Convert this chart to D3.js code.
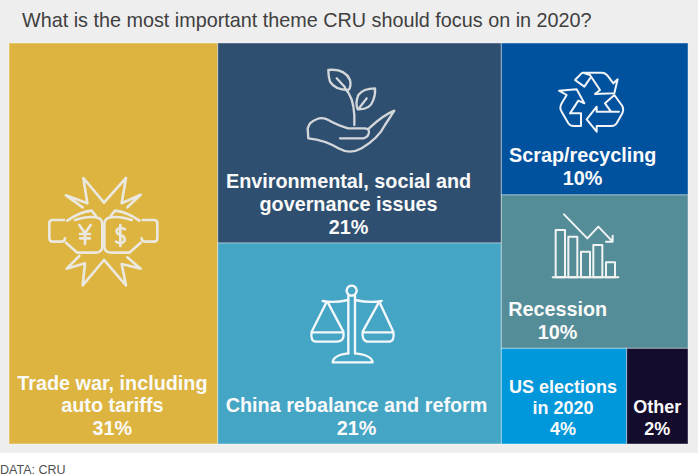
<!DOCTYPE html>
<html>
<head>
<meta charset="utf-8">
<script src="https://cdn.jsdelivr.net/npm/d3@7"></script>
<style>
html, body { margin: 0; padding: 0; background: #fff; }
svg { display: block; font-family: "Liberation Sans", Arial, sans-serif; }
</style>
</head>
<body>
<div id="chart"></div>
<script>
var titleText = "What is the most important theme CRU should focus on in 2020?";
var sourceText = "DATA: CRU";

// columns of the treemap; shares are read from the tile areas, labels are the printed ones
var themes = ["trade", "esg", "china", "scrap", "recession", "us", "other"];
var shares = [30.7, 20.8, 20.9, 10.4, 10.5, 4.4, 2.15];
var percentLabels = ["31%", "21%", "21%", "10%", "10%", "4%", "2%"];
var nameLines = [
    ["Trade war, including", "auto tariffs"],
    ["Environmental, social and", "governance issues"],
    ["China rebalance and reform"],
    ["Scrap/recycling"],
    ["Recession"],
    ["US elections", "in 2020"],
    ["Other"]
];
var tileColors = ["#dcb43f", "#2e4f70", "#45a5c5", "#00529f", "#548d97", "#0098db", "#140c2c"];

var width = 698;
var height = 476;

function leaf(i) {
    return { name: themes[i], value: shares[i], index: i };
}

var tree = {
    children: [
        leaf(0),
        { children: [leaf(1), leaf(2)] },
        { children: [leaf(3), leaf(4), { children: [leaf(5), leaf(6)] }] }
    ]
};

var root = d3.hierarchy(tree).sum(function (d) { return d.value || 0; });

d3.treemap()
    .size([679, 401])
    .tile(function (node, x0, y0, x1, y1) {
        (node.depth % 2 ? d3.treemapSlice : d3.treemapDice)(node, x0, y0, x1, y1);
    })(root);

var svg = d3.select("#chart").append("svg")
    .attr("width", width)
    .attr("height", height)
    .attr("viewBox", "0 0 " + width + " " + height);

svg.append("rect")
    .attr("width", width)
    .attr("height", 453)
    .attr("fill", "#eeeeee");

svg.append("text")
    .attr("x", 22)
    .attr("y", 27)
    .attr("font-size", 19.8)
    .attr("fill", "#404040")
    .text(titleText);

svg.append("text")
    .attr("x", 0)
    .attr("y", 474)
    .attr("font-size", 12.5)
    .attr("fill", "#505050")
    .text(sourceText);

var plot = svg.append("g").attr("transform", "translate(9,43)");

var tiles = plot.selectAll("g.tile")
    .data(root.leaves())
    .enter()
    .append("g")
    .attr("class", "tile");

tiles.append("rect")
    .attr("x", function (d) { return d.x0; })
    .attr("y", function (d) { return d.y0; })
    .attr("width", function (d) { return d.x1 - d.x0; })
    .attr("height", function (d) { return d.y1 - d.y0; })
    .attr("fill", function (d) { return tileColors[d.data.index]; })
    .attr("stroke", "rgba(255,255,255,0.4)")
    .attr("stroke-width", 1);

// label placement per tile: shift of the text centre from the tile centre, font size
var labelShift = [-1, -11, -3, -12, -37, -1, 0];
var labelSize = [19.8, 19.8, 19.8, 19.8, 19.8, 18, 18];
var labelLeading = [22.5, 23, 23, 23, 23, 21, 22];

tiles.each(function (d) {
    var i = d.data.index;
    var lines = nameLines[i].concat(percentLabels[i]);
    var cx = (d.x0 + d.x1) / 2 + labelShift[i];
    var bottom = d.y1 - 9.5;
    d3.select(this).selectAll("text")
        .data(lines)
        .enter()
        .append("text")
        .attr("x", cx)
        .attr("y", function (t, k) { return bottom - (lines.length - 1 - k) * labelLeading[i]; })
        .attr("text-anchor", "middle")
        .attr("font-size", labelSize[i])
        .attr("font-weight", "bold")
        .attr("fill", "#fafafa")
        .text(function (t) { return t; });
});

// icons are traced at 3x, so every group is scaled back by a third
var icons = [
    { x: 40, y: 170, color: "#ebe8df", w: 8, paths: [
        "M128,112 L78,76 L142,100 L130,24 L192,98 L258,24 L245,100 L302,74 L262,112",
        "M118,258 L80,296 L135,280 L128,346 L192,270 L258,346 L245,282 L302,296 L262,262",
        "M72,150 H38 Q28,150 28,160 V205 Q28,215 38,215 H62 Q75,215 75,205",
        "M308,150 H342 Q352,150 352,160 V205 Q352,215 342,215 H318 Q305,215 305,205",
        "M82,152 Q120,125 155,122 L168,138 M105,150 Q150,135 178,145 Q187,150 187,165 V232 Q185,248 165,248 H112 L78,218",
        "M298,152 Q260,125 225,122 L212,138 M275,150 Q230,135 202,145 Q193,150 193,165 V232 Q195,248 215,248 H268 L302,218",
        "M118,165 L135,190 L152,165 M135,190 V222 M120,192 H150 M120,205 H150",
        "M255,178 Q240,168 230,180 Q228,192 242,195 Q256,200 254,212 Q245,225 228,215 M241,165 V228"
    ] },
    { x: 295, y: 60, color: "#d4d7da", w: 7, paths: [
        "M135,235 H205 Q222,230 222,215 Q222,205 208,205 H160 Q125,195 100,180 Q75,165 45,190 L38,205 L40,235 Q90,240 130,265 Q165,285 200,265 Q250,235 270,195 L298,152 Q265,165 222,205",
        "M178,195 V165 Q175,110 150,85",
        "M100,30 Q150,25 165,60 Q170,80 160,90 Q120,90 105,65 Q100,50 100,30 Z M125,55 L150,82",
        "M240,85 Q205,85 190,105 Q180,130 188,148 Q225,150 235,120 Q242,100 240,85 Z M190,148 L215,115"
    ] },
    { x: 545, y: 60, color: "#f2f4f7", w: 6, paths: [
        "M135,45 L112,38 L90,60 L118,80 L135,55 M112,38 H170 Q182,38 190,50 L205,70 L218,58 L208,100 L150,102 L165,90 L135,45",
        "M42,92 L95,88 L118,130 L100,122 L75,160 L108,160 V198 H85 Q75,198 70,190 L50,155 Q42,145 50,130 L65,105 Z M75,160 L92,135",
        "M155,140 L125,178 L155,215 V198 H200 Q210,198 215,190 L232,160 Q237,148 232,138 L208,105 L180,130 L198,155 H155 Z M198,155 H222"
    ] },
    { x: 540, y: 205, color: "#f2f4f4", w: 6, paths: [
        "M47,75 H75 V217 H47 Z M85,95 H112 V217 H85 Z M123,140 H150 V217 H123 Z M160,120 H187 V217 H160 Z M198,172 H225 V217 H198 Z",
        "M38,217 H235",
        "M72,28 L142,100 L175,65 L218,110 M218,92 V110 H198"
    ] },
    { x: 300, y: 275, color: "#f4f8fa", w: 7, paths: [
        "M145,62 V235 M165,62 V235",
        "M155,32 A15,15 0 1 1 154.9,32 Z",
        "M68,78 Q100,85 145,75 M165,75 Q210,85 245,78",
        "M78,85 L35,170 Q30,200 50,200 H110 Q135,200 130,170 L85,85 M38,172 H128",
        "M235,85 L188,170 Q185,200 205,200 H265 Q285,200 280,170 L240,85 M190,172 H280",
        "M145,235 Q100,240 98,262 H218 Q215,240 165,235"
    ] }
];

icons.forEach(function (icon) {
    svg.append("g")
        .attr("transform", "translate(" + icon.x + "," + icon.y + ") scale(0.3333)")
        .attr("fill", "none")
        .attr("stroke", icon.color)
        .attr("stroke-width", icon.w)
        .attr("stroke-linejoin", "round")
        .attr("stroke-linecap", "round")
        .selectAll("path")
        .data(icon.paths)
        .enter()
        .append("path")
        .attr("d", function (d) { return d; });
});
</script>
</body>
</html>
